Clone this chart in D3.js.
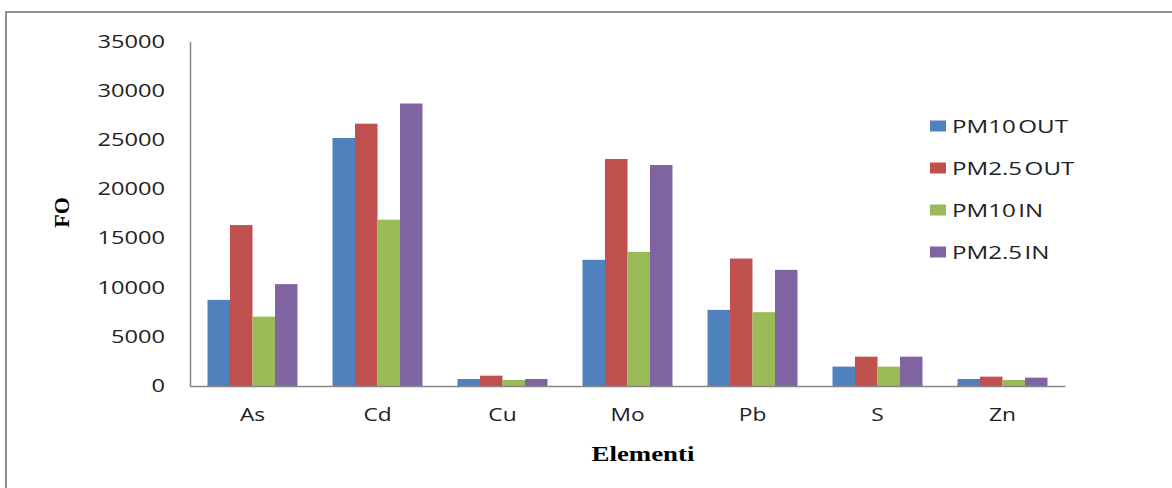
<!DOCTYPE html>
<html><head><meta charset="utf-8">
<script src="https://cdn.jsdelivr.net/npm/d3@7"></script>
<style>body{margin:0;background:#fff} svg{display:block}</style>
</head><body><svg id="c" width="1172" height="488"></svg>
<script>
const categories = ["As","Cd","Cu","Mo","Pb","S","Zn"];
const seriesNames = ["PM10 OUT","PM2.5 OUT","PM10 IN","PM2.5 IN"];
const pm10Out = [8750,25200,710,12820,7730,1970,710];
const pm25Out = [16350,26650,1050,23060,12950,2980,950];
const pm10In  = [7050,16900,610,13630,7500,1970,610];
const pm25In  = [10350,28700,710,22450,11800,2980,850];
const yTicks = [0,5000,10000,15000,20000,25000,30000,35000];
const colors = ["#4F81BD","#C0504D","#9BBB59","#8064A2"];
const seriesValues = [pm10Out, pm25Out, pm10In, pm25In];

const svg = d3.select("#c");
const L = 190, R = 1065, T = 41.5, B = 386;

function stretch(sel, f){
  sel.each(function(){
    const w = this.getComputedTextLength();
    this.setAttribute("textLength", w*f);
    this.setAttribute("lengthAdjust","spacingAndGlyphs");
  });
}

// outer border
svg.append("path").attr("d","M6,488V12H1172").attr("fill","none")
  .attr("stroke","#8f8f8f").attr("stroke-width",2);

const x0 = d3.scaleBand().domain(categories).range([L,R]).paddingInner(0.28).paddingOuter(0.14);
const x1 = d3.scaleBand().domain(seriesNames).range([0,x0.bandwidth()]);
const y = d3.scaleLinear().domain([0,35000]).range([B,T]);

// bars
const data = [];
categories.forEach((c,i)=>seriesNames.forEach((s,j)=>data.push({c, s, j, v: seriesValues[j][i]})));
svg.append("g").selectAll("rect").data(data).join("rect")
  .attr("x", d=>x0(d.c)+x1(d.s))
  .attr("width", x1.bandwidth())
  .attr("y", d=>y(d.v))
  .attr("height", d=>B-y(d.v))
  .attr("fill", d=>colors[d.j]);

// y axis
const ya = svg.append("g").attr("transform",`translate(${L},0)`)
  .call(d3.axisLeft(y).tickValues(yTicks).tickSize(0).tickPadding(25).tickFormat(d3.format("d")));
ya.select(".domain").attr("stroke","#868686").attr("stroke-width",1.5);
ya.selectAll("text").attr("font-family","Open Sans").attr("font-size",17.5).attr("fill","#222");
stretch(ya.selectAll("text"), 1.35);

// x axis
const xa = svg.append("g").attr("transform",`translate(0,${B})`)
  .call(d3.axisBottom(x0).tickSize(0).tickPadding(23).tickSizeOuter(0));
xa.select(".domain").attr("stroke","#868686").attr("stroke-width",1.5);
xa.selectAll("text").attr("font-family","Open Sans").attr("font-size",17.5).attr("fill","#222");
stretch(xa.selectAll("text"), 1.3);

// axis titles
svg.append("text").attr("transform","translate(68.5,212.5) rotate(-90)")
  .attr("text-anchor","middle").attr("font-family","Liberation Serif").attr("font-weight","bold")
  .attr("font-size",22).attr("fill","#000").text("FO");
const xt = svg.append("text").attr("x",643).attr("y",461)
  .attr("text-anchor","middle").attr("font-family","Liberation Serif").attr("font-weight","bold")
  .attr("font-size",22).attr("fill","#000").text("Elementi");
stretch(xt, 1.22);

// legend
const lg = svg.append("g");
const rowY = d3.scalePoint().domain(seriesNames).range([126,252]);
const items = lg.selectAll("g").data(seriesNames).join("g")
  .attr("transform", d=>`translate(930,${rowY(d)})`);
items.append("rect").attr("x",0).attr("y",-5.5).attr("width",16).attr("height",11)
  .attr("fill",(d,i)=>colors[i]);
const lt = items.append("text").attr("x",22).attr("y",6.7)
  .attr("font-family","Open Sans").attr("font-size",19).attr("fill","#222")
  .attr("word-spacing",-3).text(d=>d);
stretch(lt, 1.27);
</script></body></html>
